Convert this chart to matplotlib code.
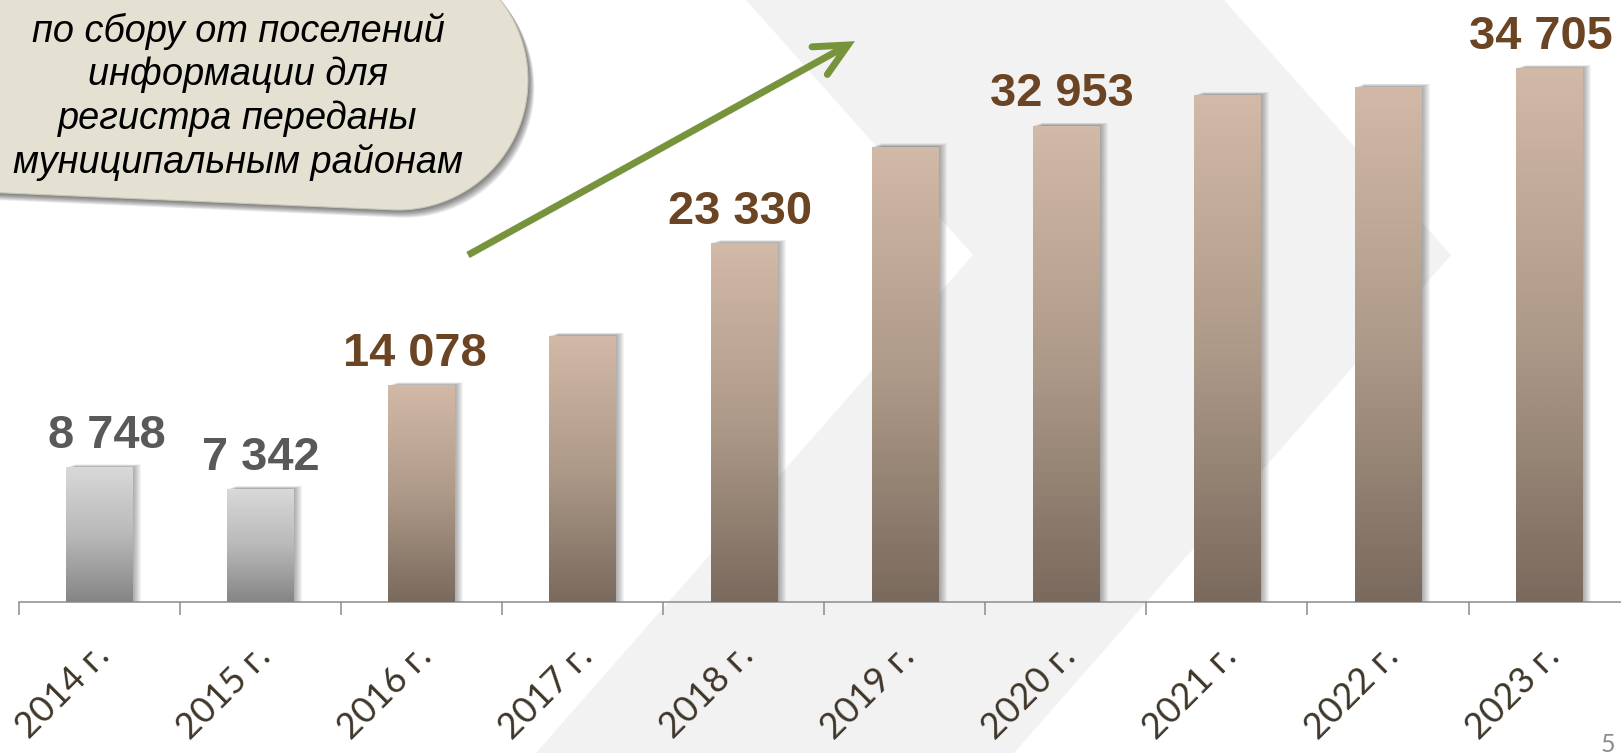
import numpy as np
import matplotlib
matplotlib.use("Agg")
import matplotlib.pyplot as plt
from matplotlib.patches import Polygon, Rectangle
from matplotlib.lines import Line2D
from matplotlib.transforms import ScaledTranslation
from matplotlib.colors import LinearSegmentedColormap

# ---------------- data ----------------
years = ["2014 г.", "2015 г.", "2016 г.", "2017 г.", "2018 г.",
         "2019 г.", "2020 г.", "2021 г.", "2022 г.", "2023 г."]
values = [8748, 7342, 14078, 17300, 23330, 29600, 30950, 32953, 33480, 34705]
label_idx = [0, 1, 2, 4, 6, 9]
label_text = ["8 748", "7 342", "14 078", "23 330", "32 953", "34 705"]
n_gray = 2
callout_lines = ["по сбору от поселений", "информации для",
                 "регистра переданы", "муниципальным районам"]
page_number = "5"

# ---------------- layout ----------------
W, H = 1621, 753
DPI = 100
fig = plt.figure(figsize=(W / DPI, H / DPI), dpi=DPI)
fig.patch.set_facecolor("white")


def fx(x):
    return x / W


def fy(y):
    return 1 - y / H


# background chevron band
chev = [(746, 0), (1224, 0), (1451, 255), (1014, 753), (536, 753), (973, 255)]
fig.add_artist(Polygon([(fx(a), fy(b)) for a, b in chev], closed=True,
                       transform=fig.transFigure, facecolor="#F2F2F2",
                       edgecolor="none", zorder=-10))

base_y = 602
x_left = 18.6
cat_w = 161.1
val_per_px = 65.0
ax = fig.add_axes([fx(x_left), fy(base_y), 10 * cat_w / W, base_y / H])
ax.patch.set_alpha(0)

x = np.arange(len(years))
bars = ax.bar(x, values, width=0.41, color="none", edgecolor="none", zorder=4)

cm_brown = LinearSegmentedColormap.from_list(
    "brown", [(0, "#7A6A5D"), (0.5, "#AE9A89"), (1, "#D3B9A7")])
cm_gray = LinearSegmentedColormap.from_list(
    "gray", [(0, "#858585"), (0.5, "#B9B9B9"), (1, "#D9D9D9")])
grad = np.linspace(0, 1, 256).reshape(-1, 1)

dxp = 1.0 / cat_w
dyp = val_per_px
for i, b in enumerate(bars):
    x0, w, h = b.get_x(), b.get_width(), b.get_height()
    # soft shadow on the right
    for k in range(1, 10):
        ax.add_patch(Rectangle((x0 + k * dxp, 0), w, h + 0.35 * k * dyp,
                               facecolor="black", alpha=0.045,
                               edgecolor="none", zorder=2))
    im = ax.imshow(grad, extent=[x0, x0 + w, 0, h], origin="lower",
                   cmap=cm_gray if i < n_gray else cm_brown,
                   aspect="auto", interpolation="bicubic", zorder=3)
    im.set_clip_path(b)

ax.set_xlim(-0.5, 9.5)
ax.set_ylim(0, base_y * val_per_px)

for s in ["top", "right", "left"]:
    ax.spines[s].set_visible(False)
ax.spines["bottom"].set_color("#8C8C8C")
ax.spines["bottom"].set_linewidth(1.1)
ax.set_yticks([])
ax.set_xticks(x)
ax.set_xticklabels([])
ax.tick_params(axis="x", which="major", length=0)
ax.set_xticks(np.arange(-0.5, 10, 1), minor=True)
ax.tick_params(axis="x", which="minor", length=9.4, width=1.1,
               color="#8C8C8C", direction="out")

# category labels
for i, lab in enumerate(years):
    tr = ax.get_xaxis_transform() + ScaledTranslation(-7 / DPI, -37 / DPI,
                                                      fig.dpi_scale_trans)
    ax.text(i, 0, lab, transform=tr, rotation=45, rotation_mode="anchor",
            ha="right", va="top", fontsize=26, family="Lato",
            color="#3F3629", clip_on=False)

# value labels
label_dx_px = [8, 1, -6, -4, -4, -8]
for i, t, dx in zip(label_idx, label_text, label_dx_px):
    col = "#595959" if i < n_gray else "#6B4424"
    ax.annotate(t, xy=(i, values[i]), xytext=(dx * 0.72, 19.5 * 0.72),
                textcoords="offset points", ha="center", va="baseline",
                fontsize=33.8, fontweight="bold", family="Liberation Sans",
                color=col, annotation_clip=False, zorder=6)

# ---------------- callout bubble ----------------
cx, cy, r = 398, 80, 130
theta = np.deg2rad(2.5)
ts = np.linspace(-np.pi / 2, np.pi / 2, 80)
pts = [(cx + r * np.cos(t), cy + r * np.sin(t)) for t in ts]
pts += [(-300, cy + r), (-300, cy - r)]
rot = []
for px, py in pts:
    dx, dy = px - cx, py - cy
    rot.append((cx + dx * np.cos(theta) - dy * np.sin(theta),
                cy + dx * np.sin(theta) + dy * np.cos(theta)))

for k in range(1, 8):
    fig.add_artist(Polygon([(fx(a + 0.9 * k), fy(b + 1.1 * k)) for a, b in rot],
                           closed=True, transform=fig.transFigure,
                           facecolor="black", edgecolor="none", alpha=0.09,
                           zorder=5))
fig.add_artist(Polygon([(fx(a), fy(b)) for a, b in rot], closed=True,
                       transform=fig.transFigure, facecolor="#E4E1D3",
                       edgecolor="#C8C5B5", linewidth=0.8, zorder=6))

for line, yy in zip(callout_lines, [42, 85, 129, 173]):
    fig.text(fx(238), fy(yy), line, ha="center", va="baseline", fontsize=27.3,
             style="italic", family="Liberation Sans", color="black", zorder=7)

# ---------------- green arrow ----------------
green = "#77933C"
tail = np.array([468.0, 255.0])
tip = np.array([848.0, 45.0])
fig.add_artist(Line2D([fx(tail[0]), fx(tip[0])], [fy(tail[1]), fy(tip[1])],
                      transform=fig.transFigure, color=green, lw=5,
                      solid_capstyle="butt", zorder=7))
back = (tail - tip) / np.linalg.norm(tail - tip)
wing = []
for ang in (np.deg2rad(26), np.deg2rad(-26)):
    c, s = np.cos(ang), np.sin(ang)
    v = np.array([back[0] * c - back[1] * s, back[0] * s + back[1] * c])
    wing.append(tip + 36 * v)
hx = [wing[0][0], tip[0], wing[1][0]]
hy = [wing[0][1], tip[1], wing[1][1]]
fig.add_artist(Line2D([fx(a) for a in hx], [fy(b) for b in hy],
                      transform=fig.transFigure, color=green, lw=5,
                      solid_capstyle="round", solid_joinstyle="miter",
                      zorder=7))

# page number
fig.text(fx(1601), fy(733), page_number, ha="left", va="top", fontsize=18,
         family="Lato", color="#8C8C8C")

fig.savefig("out.png", dpi=DPI, facecolor="white")
